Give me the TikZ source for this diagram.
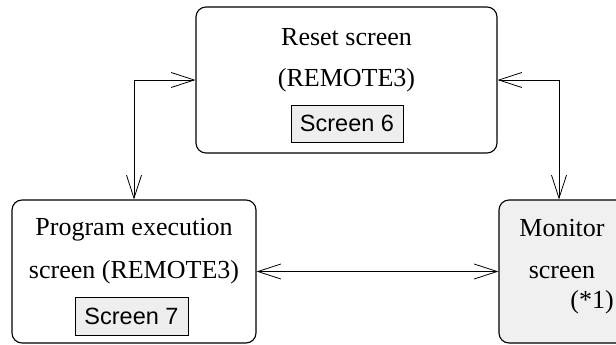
\documentclass[tikz,border=0pt]{standalone}
\usepackage{fontspec}
\setmainfont{Liberation Serif}
\setsansfont{Liberation Sans}
\usepackage{tikz}
\usetikzlibrary{positioning,arrows.meta}
\definecolor{tagfill}{HTML}{EEEEEE}
\definecolor{monfill}{HTML}{F0F0F0}
\tikzset{
  screenbox/.style={draw,line width=1.1pt,rounded corners=10pt,inner sep=0pt},
  tagbox/.style={draw,line width=0.8pt,fill=tagfill,inner sep=0pt,
    font=\sffamily\fontsize{23.5}{26}\selectfont},
  lbl/.style={font=\fontsize{26}{30}\selectfont,inner sep=0pt},
  biarrow/.style={line width=0.8pt,{Straight Barb[length=23pt,width=15pt]}-{Straight Barb[length=23pt,width=15pt]}}
}

\begin{document}
\begin{tikzpicture}[x=1pt,y=-1pt]
  \useasboundingbox (0,0) rectangle (616,345);
  % boxes
  \node[screenbox,minimum width=301pt,minimum height=146pt] (reset) at (346.5,80) {};
  \node[screenbox,minimum width=244pt,minimum height=143pt] (prog) at (134,271.5) {};
  \node[screenbox,fill=monfill,minimum width=140pt,minimum height=143pt] (monitor) at (569,271.5) {};
  \coordinate (monin) at ([xshift=-10pt]monitor.north);
  % texts
  \node[lbl] (resetA) at (346.5,37) {Reset screen};
  \node[lbl] (resetB) at (346.5,80) {(REMOTE3)};
  \node[tagbox,minimum width=112pt,minimum height=37pt] (scrsix) at (347,123.5) {Screen 6};
  \node[lbl] (progA) at (134,230) {Program execution};
  \node[lbl] (progB) at (134,272) {screen (REMOTE3)};
  \node[tagbox,minimum width=113pt,minimum height=38pt] (scrseven) at (131.5,316) {Screen 7};
  \node[lbl] (monA) at (562,228) {Monitor};
  \node[lbl] (monB) at (562,272) {screen};
  \node[lbl,anchor=east] (monC) at (614,302) {(*1)};
  % connectors
  \draw[biarrow] (reset.west) -| (prog.north);
  \draw[biarrow] (reset.east) -| (monin);
  \draw[biarrow] (prog.east) -- (monitor.west);
\end{tikzpicture}
\end{document}
